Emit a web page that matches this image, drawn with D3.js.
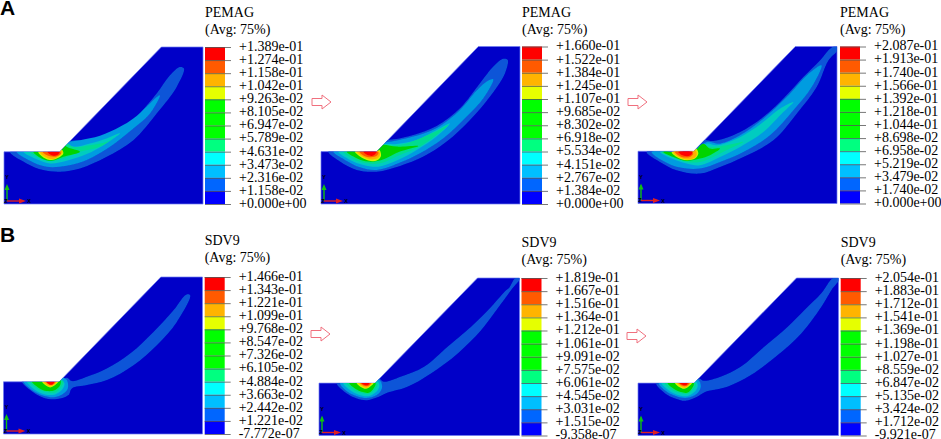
<!DOCTYPE html>
<html>
<head>
<meta charset="utf-8">
<script src="https://cdn.jsdelivr.net/npm/d3@7"></script>
<style>
    html, body { margin: 0; padding: 0; background: #fff; }
    svg { display: block; }
    text { font-family: "Liberation Serif", serif; fill: #000; }
</style>
</head>
<body>
<svg id="chart" width="941" height="439"></svg>
<script>
// legend values, top to bottom
var pemagTicks1 = ['+1.389e-01', '+1.274e-01', '+1.158e-01', '+1.042e-01', '+9.263e-02', '+8.105e-02', '+6.947e-02', '+5.789e-02', '+4.631e-02', '+3.473e-02', '+2.316e-02', '+1.158e-02', '+0.000e+00'];
var pemagTicks2 = ['+1.660e-01', '+1.522e-01', '+1.384e-01', '+1.245e-01', '+1.107e-01', '+9.685e-02', '+8.302e-02', '+6.918e-02', '+5.534e-02', '+4.151e-02', '+2.767e-02', '+1.384e-02', '+0.000e+00'];
var pemagTicks3 = ['+2.087e-01', '+1.913e-01', '+1.740e-01', '+1.566e-01', '+1.392e-01', '+1.218e-01', '+1.044e-01', '+8.698e-02', '+6.958e-02', '+5.219e-02', '+3.479e-02', '+1.740e-02', '+0.000e+00'];
var sdvTicks1 = ['+1.466e-01', '+1.343e-01', '+1.221e-01', '+1.099e-01', '+9.768e-02', '+8.547e-02', '+7.326e-02', '+6.105e-02', '+4.884e-02', '+3.663e-02', '+2.442e-02', '+1.221e-02', '-7.772e-07'];
var sdvTicks2 = ['+1.819e-01', '+1.667e-01', '+1.516e-01', '+1.364e-01', '+1.212e-01', '+1.061e-01', '+9.091e-02', '+7.575e-02', '+6.061e-02', '+4.545e-02', '+3.031e-02', '+1.515e-02', '-9.358e-07'];
var sdvTicks3 = ['+2.054e-01', '+1.883e-01', '+1.712e-01', '+1.541e-01', '+1.369e-01', '+1.198e-01', '+1.027e-01', '+8.559e-02', '+6.847e-02', '+5.135e-02', '+3.424e-02', '+1.712e-02', '-9.921e-07'];

var legendColors = ['#ff0000', '#ff5a00', '#ffb400', '#e6ff00', '#00ff00', '#00ff00', '#00ff00', '#00ff80', '#00ffff', '#00bfff', '#0066ff', '#0000ff'];
// fringe colours as they appear on the model, outermost first
var bandColors = ['#0a55d8', '#009ce0', '#00ccc0', '#00dc90', '#00d400', '#d8f000', '#ffb000', '#ff5a00', '#ff0000'];
var modelColor = '#0000c8';

// slope outline, model units
var slopeOutline = [[0, 0], [597, 0], [597, 472], [472, 472], [167, 157], [0, 157]];

// fringe outlines per frame, model units
var pemagBands1 = [
    [[18, 157], [68, 122], [118, 102], [168, 97], [228, 107], [308, 142], [388, 192], [458, 272], [518, 352], [540, 407], [528, 412], [498, 387], [458, 332], [400, 262], [378, 232], [318, 209], [258, 192], [198, 188], [167, 157]],
    [[38, 157], [78, 130], [128, 112], [188, 115], [248, 132], [318, 172], [388, 227], [438, 272], [468, 327], [458, 322], [430, 295], [388, 257], [348, 232], [288, 205], [228, 192], [188, 184], [167, 157]],
    [[58, 157], [93, 137], [138, 122], [188, 130], [248, 150], [298, 177], [348, 212], [344, 212], [308, 197], [258, 182], [208, 172], [183, 182], [167, 157]],
    [[78, 157], [103, 140], [138, 130], [178, 137], [228, 157], [288, 172], [343, 210], [308, 187], [258, 177], [208, 172], [183, 184], [167, 157]],
    [[88, 157], [113, 137], [143, 130], [178, 142], [228, 157], [188, 172], [176, 184], [167, 157]],
    [[103, 157], [118, 140], [143, 132], [163, 139], [178, 152], [173, 164], [167, 157]],
    [[108, 157], [123, 142], [148, 135], [168, 147], [176, 157], [166, 162]],
    [[116, 157], [128, 147], [153, 142], [171, 152], [167, 157]],
    [[130, 157], [145, 146], [160, 147], [167, 157]]
];
var pemagBands2 = [
    [[22, 157], [57, 127], [107, 102], [167, 97], [237, 114], [307, 142], [377, 187], [447, 252], [507, 322], [552, 392], [560, 432], [547, 435], [517, 412], [477, 362], [417, 287], [347, 234], [277, 207], [227, 195], [197, 190], [167, 157]],
    [[37, 157], [72, 132], [117, 110], [167, 102], [232, 122], [297, 152], [367, 197], [437, 262], [487, 317], [517, 374], [502, 370], [467, 340], [417, 282], [347, 228], [277, 202], [212, 187], [187, 182], [167, 157]],
    [[52, 157], [87, 132], [127, 117], [172, 112], [227, 130], [287, 162], [347, 202], [387, 242], [347, 222], [287, 192], [227, 180], [182, 177], [167, 157]],
    [[67, 157], [97, 134], [137, 122], [177, 122], [237, 147], [297, 172], [382, 237], [337, 214], [267, 185], [227, 175], [182, 177], [167, 157]],
    [[77, 157], [107, 137], [142, 127], [182, 132], [237, 157], [292, 174], [227, 172], [182, 177], [169, 164], [167, 157]],
    [[102, 157], [117, 142], [142, 130], [167, 130], [180, 144], [175, 162], [167, 157]],
    [[107, 157], [122, 144], [147, 134], [169, 137], [177, 150], [169, 160]],
    [[115, 157], [130, 144], [150, 140], [168, 145], [172, 155]],
    [[127, 157], [139, 147], [157, 145], [167, 157]]
];
var pemagBands3 = [
    [[26, 155], [66, 125], [116, 100], [186, 90], [246, 110], [316, 140], [406, 190], [476, 270], [536, 350], [571, 430], [598, 460], [598, 472], [582, 470], [546, 430], [496, 380], [426, 305], [356, 245], [286, 205], [226, 188], [196, 190], [164, 155]],
    [[41, 155], [76, 128], [126, 108], [186, 105], [246, 125], [316, 155], [396, 205], [466, 280], [521, 350], [551, 415], [546, 415], [506, 385], [446, 320], [376, 255], [306, 205], [246, 180], [206, 185], [164, 155]],
    [[66, 155], [101, 135], [146, 120], [186, 115], [246, 140], [306, 170], [376, 215], [436, 275], [466, 305], [426, 285], [356, 230], [286, 190], [236, 175], [206, 180], [164, 155]],
    [[71, 155], [106, 138], [146, 125], [186, 125], [226, 140], [276, 165], [316, 185], [266, 175], [216, 170], [190, 176], [164, 155]],
    [[76, 155], [106, 140], [146, 128], [186, 135], [216, 145], [246, 165], [216, 165], [196, 180], [164, 155]],
    [[101, 155], [116, 140], [146, 130], [171, 135], [181, 150], [174, 165], [164, 155]],
    [[106, 155], [126, 138], [151, 132], [173, 140], [176, 152], [171, 160]],
    [[111, 155], [131, 140], [156, 140], [166, 150]],
    [[121, 155], [136, 144], [156, 144], [164, 155]]
];
var sdvBands1 = [
    [[55, 159], [80, 132], [120, 109], [160, 105], [195, 117], [205, 137], [250, 147], [310, 162], [390, 207], [460, 267], [520, 337], [560, 417], [548, 419], [510, 372], [450, 307], [380, 242], [310, 197], [250, 172], [205, 159], [190, 169], [167, 159]],
    [[60, 159], [85, 132], [120, 115], [155, 111], [180, 122], [193, 137], [190, 162], [175, 170], [167, 159]],
    [[70, 159], [95, 132], [125, 119], [155, 119], [175, 132], [183, 152], [170, 164], [167, 159]],
    [[80, 159], [100, 137], [125, 127], [155, 125], [170, 137], [180, 157], [170, 162]],
    [[85, 159], [105, 139], [130, 129], [155, 132], [170, 147], [170, 162]],
    [[115, 159], [125, 147], [140, 140], [155, 147], [165, 159]],
    [[120, 159], [130, 147], [140, 143], [153, 149], [160, 159]],
    [[124, 159], [133, 151], [142, 148], [153, 152], [157, 159]],
    [[128, 159], [137, 149], [147, 149], [153, 159]]
];
var sdvBands2 = [
    [[53, 158], [83, 126], [113, 111], [143, 106], [178, 116], [203, 128], [263, 146], [333, 186], [413, 246], [483, 316], [543, 396], [576, 441], [600, 472], [585, 472], [566, 442], [558, 436], [513, 386], [453, 326], [383, 266], [313, 206], [243, 176], [193, 161], [178, 171]],
    [[63, 158], [85, 131], [113, 118], [148, 113], [178, 126], [188, 146], [178, 168]],
    [[72, 158], [92, 136], [118, 122], [148, 118], [170, 130], [180, 150], [172, 164]],
    [[82, 158], [100, 138], [125, 128], [148, 124], [165, 136], [175, 152], [168, 162]],
    [[90, 158], [108, 140], [130, 130], [148, 128], [162, 140], [168, 158]],
    [[112, 158], [122, 147], [140, 140], [152, 146], [163, 158]],
    [[118, 158], [128, 148], [142, 143], [152, 150], [158, 158]],
    [[122, 158], [132, 150], [144, 148], [152, 152], [155, 158]],
    [[126, 158], [134, 152], [146, 151], [150, 158]]
];
var sdvBands3 = [
    [[54, 158], [81, 126], [111, 111], [141, 104], [176, 116], [201, 131], [266, 146], [336, 181], [416, 241], [486, 306], [546, 386], [576, 436], [602, 472], [581, 472], [546, 426], [496, 376], [446, 326], [376, 266], [306, 206], [246, 176], [196, 164], [181, 171]],
    [[62, 158], [86, 131], [114, 118], [146, 113], [176, 126], [187, 146], [178, 168]],
    [[70, 158], [90, 136], [116, 122], [146, 118], [168, 130], [178, 150], [170, 164]],
    [[80, 158], [98, 138], [123, 128], [146, 124], [163, 136], [173, 152], [166, 162]],
    [[88, 158], [106, 140], [128, 130], [146, 128], [160, 140], [166, 158]],
    [[110, 158], [120, 147], [138, 140], [150, 146], [161, 158]],
    [[116, 158], [126, 148], [140, 143], [150, 150], [156, 158]],
    [[120, 158], [130, 150], [142, 148], [150, 152], [153, 158]],
    [[124, 158], [132, 152], [144, 151], [148, 158]]
];

var frames = [
    {name: 'PEMAG', ticks: pemagTicks1, bands: pemagBands1, left: 4, right: 203, top: 47, bottom: 204, barX: 205, titleY: 17},
    {name: 'PEMAG', ticks: pemagTicks2, bands: pemagBands2, left: 321, right: 520, top: 46.5, bottom: 204, barX: 522, titleY: 17},
    {name: 'PEMAG', ticks: pemagTicks3, bands: pemagBands3, left: 638, right: 837, top: 46.5, bottom: 203.5, barX: 840, titleY: 17},
    {name: 'SDV9', ticks: sdvTicks1, bands: sdvBands1, left: 3.5, right: 202.5, top: 277, bottom: 434, barX: 204.7, titleY: 245},
    {name: 'SDV9', ticks: sdvTicks2, bands: sdvBands2, left: 319, right: 519.5, top: 278, bottom: 435.5, barX: 521.5, titleY: 246.5},
    {name: 'SDV9', ticks: sdvTicks3, bands: sdvBands3, left: 638, right: 838.5, top: 278, bottom: 435.5, barX: 840.7, titleY: 246.5}
];
var arrowPositions = [[312, 102], [628, 102], [311, 334], [627, 336]];
var panelLabels = [['A', 15], ['B', 242]];

var svg = d3.select('#chart');
var defs = svg.append('defs');
defs.append('filter')
    .attr('id', 'soften')
    .attr('x', '-5%').attr('y', '-5%').attr('width', '110%').attr('height', '110%')
    .append('feGaussianBlur')
    .attr('stdDeviation', 0.45);

function drawFrame(frame, i) {
    var x = d3.scaleLinear().domain([0, 597]).range([frame.left, frame.right]),
        y = d3.scaleLinear().domain([0, 472]).range([frame.bottom, frame.top]);
    var outline = d3.line().x(function (d) { return x(d[0]); }).y(function (d) { return y(d[1]); })
        .curve(d3.curveLinearClosed);
    var rounded = d3.line().x(function (d) { return x(d[0]); }).y(function (d) { return y(d[1]); })
        .curve(d3.curveCatmullRomClosed.alpha(0.5));
    var clipId = 'slope-' + i;

    defs.append('clipPath').attr('id', clipId)
        .append('path').attr('d', outline(slopeOutline));

    svg.append('path')
        .attr('d', outline(slopeOutline))
        .attr('fill', modelColor)
        .attr('stroke', '#6f7cf0')
        .attr('stroke-width', 0.7);

    svg.append('g')
        .attr('clip-path', 'url(#' + clipId + ')')
        .append('g')
        .attr('filter', 'url(#soften)')
        .selectAll('path')
        .data(frame.bands)
        .enter()
        .append('path')
        .attr('d', function (d) { return rounded(d); })
        .attr('fill', function (d, k) { return bandColors[k]; });

    drawTriad(frame);
    drawLegend(frame);
}

function drawTriad(frame) {
    var ox = frame.left + 3, oy = frame.bottom - 3;
    var defsList = [
        {x2: ox, y2: oy - 15, color: '#10c010'},
        {x2: ox + 16, y2: oy, color: '#e02020'}
    ];
    defsList.forEach(function (a) {
        svg.append('line')
            .attr('x1', ox).attr('y1', oy).attr('x2', a.x2).attr('y2', a.y2)
            .attr('stroke', a.color).attr('stroke-width', 1.4);
    });
    svg.append('path')
        .attr('d', d3.line()([[ox - 2.5, oy - 11], [ox, oy - 17], [ox + 2.5, oy - 11]]))
        .attr('fill', '#10c010');
    svg.append('path')
        .attr('d', d3.line()([[ox + 12, oy - 2.5], [ox + 19, oy], [ox + 12, oy + 2.5]]))
        .attr('fill', '#e02020');
    [['Y', ox, oy - 22], ['Z', ox - 1, oy + 1.5], ['X', ox + 22, oy + 2]].forEach(function (t) {
        svg.append('text')
            .attr('x', t[1]).attr('y', t[2])
            .attr('text-anchor', 'middle')
            .style('font-family', '"Liberation Sans", sans-serif')
            .style('font-weight', 'bold')
            .style('font-size', '5.5px')
            .text(t[0]);
    });
}

function drawLegend(frame) {
    var barW = 20, tickW = 26;
    var legendY = d3.scalePoint().domain(frame.ticks).range([frame.top, frame.bottom]);
    var step = legendY.step();

    svg.append('g')
        .selectAll('rect')
        .data(legendColors)
        .enter()
        .append('rect')
        .attr('x', frame.barX)
        .attr('y', function (d, k) { return legendY(frame.ticks[k]); })
        .attr('width', barW)
        .attr('height', step)
        .attr('fill', function (d) { return d; });

    var axis = svg.append('g')
        .attr('transform', 'translate(' + frame.barX + ',0)')
        .call(d3.axisRight(legendY).tickSize(tickW).tickPadding(8));
    axis.select('.domain').remove();
    axis.selectAll('.tick line').attr('stroke', '#555').attr('stroke-width', 0.8);
    axis.selectAll('.tick text')
        .attr('dy', '0.24em')
        .attr('fill', '#000')
        .style('font-family', '"Liberation Serif", serif')
        .style('font-size', '14px');

    svg.append('text').attr('x', frame.barX).attr('y', frame.titleY)
        .style('font-size', '14px').text(frame.name);
    svg.append('text').attr('x', frame.barX).attr('y', frame.titleY + 17)
        .style('font-size', '14px').text('(Avg: 75%)');
}

frames.forEach(drawFrame);

var arrow = [[0, -3.5], [10, -3.5], [10, -7], [19, 0], [10, 7], [10, 3.5], [0, 3.5]];
svg.selectAll('path.step')
    .data(arrowPositions)
    .enter()
    .append('path')
    .attr('class', 'step')
    .attr('transform', function (d) { return 'translate(' + d[0] + ',' + d[1] + ')'; })
    .attr('d', d3.line().curve(d3.curveLinearClosed)(arrow))
    .attr('fill', '#fff')
    .attr('stroke', '#f0707e')
    .attr('stroke-width', 1);

svg.selectAll('text.panel')
    .data(panelLabels)
    .enter()
    .append('text')
    .attr('class', 'panel')
    .attr('x', 0)
    .attr('y', function (d) { return d[1]; })
    .style('font-family', '"Liberation Sans", sans-serif')
    .style('font-weight', 'bold')
    .style('font-size', '21px')
    .text(function (d) { return d[0]; });
</script>
</body>
</html>
